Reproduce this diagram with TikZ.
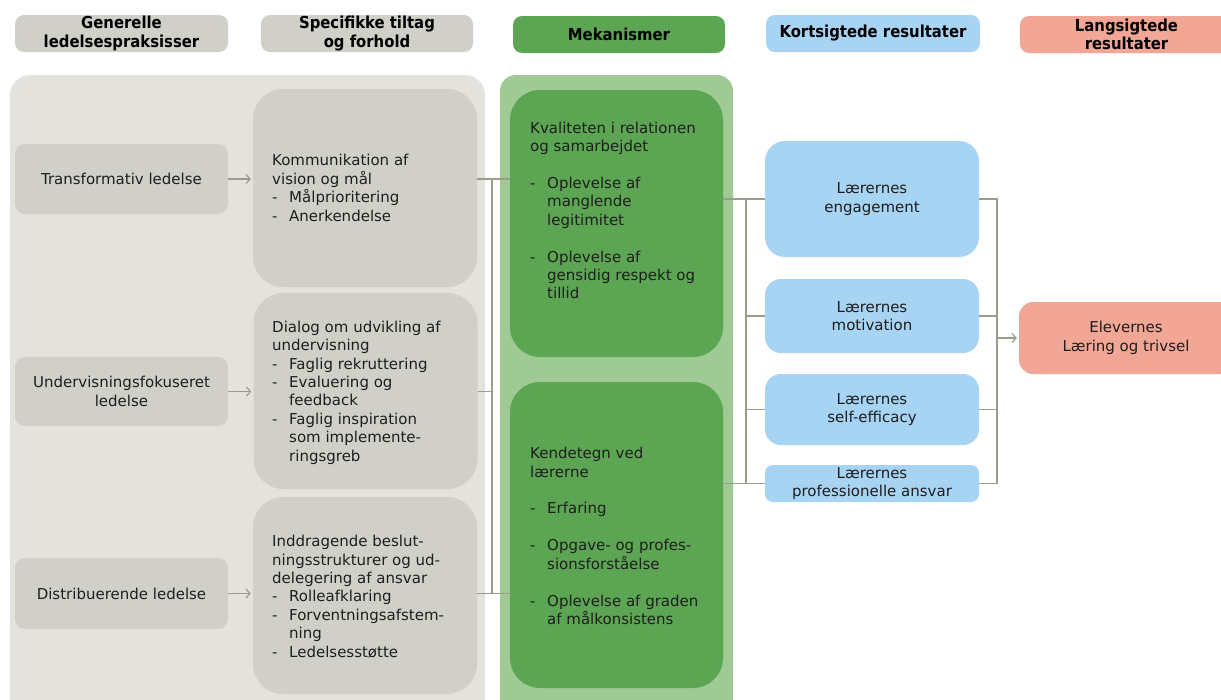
\documentclass[tikz,border=0pt]{standalone}
\usepackage{fontspec}
\setmainfont{DejaVu Sans}
\newfontfamily\hdrfont{DejaVu Sans Condensed}
\usetikzlibrary{arrows.meta}

\definecolor{panelgray}{HTML}{E3E2DD}
\definecolor{boxgray}{HTML}{D1D0C8}
\definecolor{greenlight}{HTML}{9FCA95}
\definecolor{greendark}{HTML}{5CA653}
\definecolor{bluebox}{HTML}{A8D4F4}
\definecolor{pinkbox}{HTML}{F2A696}
\definecolor{linegray}{HTML}{9C9C8D}
\definecolor{txt}{HTML}{1E1E1E}

% bullet line with a hanging dash, and the matching continuation indent
\newcommand\myitem[1]{\makebox[17pt][l]{-}#1}
\newcommand\myind{\hspace*{17pt}}

\tikzset{
  box/.style={rectangle, rounded corners=9pt, inner sep=0pt, text=txt, align=center,
    font=\fontsize{15}{18.4}\selectfont},
  hdr/.style={box, text=black, minimum height=37pt,
    font=\hdrfont\bfseries\fontsize{16.5}{18.5}\selectfont},
  leftbox/.style={box, fill=boxgray, minimum width=213pt, rounded corners=10pt},
  specbox/.style={box, fill=boxgray, minimum width=224pt, rounded corners=30pt},
  mechbox/.style={box, fill=greendark, minimum width=213pt, rounded corners=30pt},
  resbox/.style={box, fill=bluebox, minimum width=214pt, rounded corners=16pt},
  longbox/.style={box, fill=pinkbox, minimum width=214pt, rounded corners=14pt},
  btext/.style={inner sep=0pt, text=txt, align=left, anchor=west,
    font=\fontsize{15}{18.4}\selectfont},
  conn/.style={draw=linegray, line width=1.3pt},
  arr/.style={conn, -{Straight Barb[length=4pt, width=9pt, line width=1.2pt]}, shorten >=2pt},
}

\begin{document}
\begin{tikzpicture}[x=1pt, y=-1pt]
\useasboundingbox (0,0) rectangle (1221,699);

% column backgrounds
\fill[panelgray, rounded corners=20pt] (10,75) rectangle (485,730);
\fill[greenlight, rounded corners=16pt] (500,75) rectangle (733,730);

% column headers
\node[hdr, fill=boxgray, minimum width=213pt] (h1) at (121.5,33.5) {Generelle\\ledelsespraksisser};
\node[hdr, fill=boxgray, minimum width=212pt] (h2) at (367,33.5) {Specifikke tiltag\\og forhold};
\node[hdr, fill=greendark, minimum width=212pt] (h3) at (619,34.5) {Mekanismer};
\node[hdr, fill=bluebox, minimum width=214pt] (h4) at (873,33.5) {Kortsigtede resultater};
\node[hdr, fill=pinkbox, minimum width=213pt] (h5) at (1126.5,34.5) {Langsigtede\\resultater};

% general leadership practices
\node[leftbox, minimum height=70pt] (l1) at (121.5,179) {Transformativ ledelse};
\node[leftbox, minimum height=69pt] (l2) at (121.5,391.5) {Undervisningsfokuseret\\ledelse};
\node[leftbox, minimum height=71pt] (l3) at (121.5,593.5) {Distribuerende ledelse};

% specific measures
\node[specbox, minimum height=198pt] (s1) at (365,188) {};
\node[btext] (s1t) at (272,188) {Kommunikation af\\vision og mål\\\myitem{Målprioritering}\\\myitem{Anerkendelse}};
\node[specbox, minimum height=196pt] (s2) at (365.5,391) {};
\node[btext] (s2t) at (272,392.5) {Dialog om udvikling af\\undervisning\\\myitem{Faglig rekruttering}\\\myitem{Evaluering og}\\\myind feedback\\\myitem{Faglig inspiration}\\\myind som implemente-\\\myind ringsgreb};
\node[specbox, minimum height=197pt] (s3) at (365,595.5) {};
\node[btext] (s3t) at (272,596.5) {Inddragende beslut-\\ningsstrukturer og ud-\\delegering af ansvar\\\myitem{Rolleafklaring}\\\myitem{Forventningsafstem-}\\\myind ning\\\myitem{Ledelsesstøtte}};

% mechanisms
\node[mechbox, minimum height=267pt] (m1) at (616.5,223.5) {};
\node[btext] (m1t) at (530,210.5) {Kvaliteten i relationen\\og samarbejdet\\[18.4pt]\myitem{Oplevelse af}\\\myind manglende\\\myind legitimitet\\[18.4pt]\myitem{Oplevelse af}\\\myind gensidig respekt og\\\myind tillid};
\node[mechbox, minimum height=306pt] (m2) at (616.5,535) {};
\node[btext] (m2t) at (530,536) {Kendetegn ved\\lærerne\\[18.4pt]\myitem{Erfaring}\\[18.4pt]\myitem{Opgave- og profes-}\\\myind sionsforståelse\\[18.4pt]\myitem{Oplevelse af graden}\\\myind af målkonsistens};

% short-term results
\node[resbox, minimum height=116pt, rounded corners=20pt] (b1) at (872,199) {Lærernes\\engagement};
\node[resbox, minimum height=74pt] (b2) at (872,316) {Lærernes\\motivation};
\node[resbox, minimum height=71pt] (b3) at (872,409.5) {Lærernes\\self-efficacy};
\node[resbox, minimum height=37pt, rounded corners=8pt] (b4) at (872,483.5) {Lærernes\\professionelle ansvar};

% long-term result
\node[longbox, minimum height=72pt] (e) at (1126,338) {Elevernes\\Læring og trivsel};

% arrows from practices to measures
\draw[arr] (l1.east) -- (s1.west |- l1.east);
\draw[arr] (l2.east) -- (s2.west |- l2.east);
\draw[arr] (l3.east) -- (s3.west |- l3.east);

% measures joined into mechanisms
\coordinate (j1) at (492,179);
\draw[conn] (s1.east |- l1.east) -- (m1.west |- l1.east);
\draw[conn] (s3.east |- l3.east) -- (m2.west |- l3.east);
\draw[conn] (s2.east |- l2.east) -- (j1 |- l2.east);
\draw[conn] (j1) -- (j1 |- l3.east);

% mechanisms joined into short-term results
\coordinate (j2) at (746,199);
\draw[conn] (m1.east |- b1.west) -- (b1.west);
\draw[conn] (m2.east |- b4.west) -- (b4.west);
\draw[conn] (j2) -- (j2 |- b4.west);
\draw[conn] (j2 |- b2.west) -- (b2.west);
\draw[conn] (j2 |- b3.west) -- (b3.west);

% short-term results joined into the long-term result
\coordinate (j3) at (997,199);
\draw[conn] (b1.east) -- (j3) -- (j3 |- b4.east) -- (b4.east);
\draw[conn] (b2.east) -- (j3 |- b2.east);
\draw[conn] (b3.east) -- (j3 |- b3.east);
\draw[arr] (j3 |- e.west) -- (e.west);
\end{tikzpicture}
\end{document}
